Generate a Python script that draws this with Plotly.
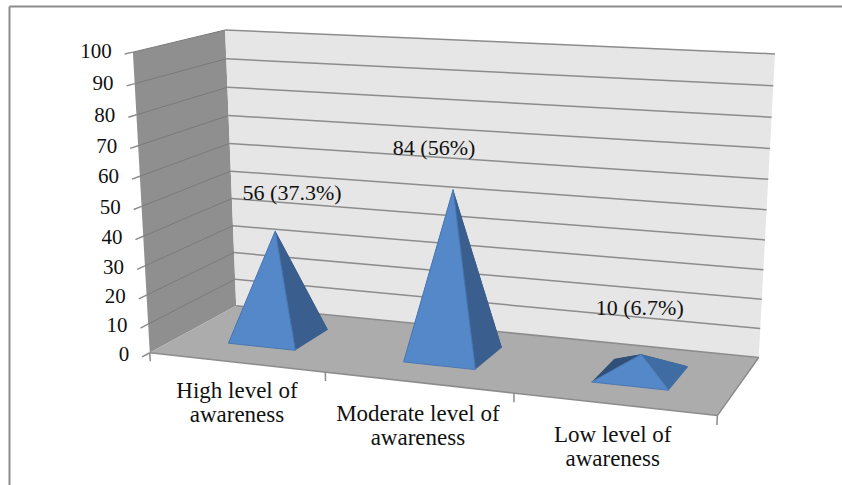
import numpy as np
import plotly.graph_objects as go

W, H = 842, 485
categories = ["High level of<br>awareness", "Moderate level of<br>awareness", "Low level of<br>awareness"]
percent = [37.3, 56.0, 6.7]
labels = ["56 (37.3%)", "84 (56%)", "10 (6.7%)"]
ticks = [0, 10, 20, 30, 40, 50, 60, 70, 80, 90, 100]

# Box corners (category, depth, value) and where they sit on the page: fixes the 3D view.
box = np.array([[0,0,0],[0,0,100],[0,1,0],[0,1,100],[3,1,100],[3,1,0],[3,0,0]], float)
page = np.array([[150,352.5],[133,52],[236,306],[225,30],[775,54],[759,357],[717,416]], float)
A = []
for (x,y,z),(u,v) in zip(box/[3,1,100], page/[W,H]):
    A.append([x,y,z,1,0,0,0,0,-u*x,-u*y,-u*z,-u])
    A.append([0,0,0,0,x,y,z,1,-v*x,-v*y,-v*z,-v])
M = np.linalg.svd(np.array(A))[2][-1].reshape(3,4)
def proj(c, d, v):
    q = M @ np.array([c/3, d, v/100, 1.0])
    return float(q[0]/q[2]*W), float(q[1]/q[2]*H)

fig = go.Figure()
def poly(points, color, edge=None):
    xy = [proj(*p) for p in points]; xy.append(xy[0])
    fig.add_trace(go.Scatter(x=[a for a,_ in xy], y=[b for _,b in xy], mode="lines", fill="toself", fillcolor=color,
                             line=dict(color=edge or color, width=1 if edge else 0), hoverinfo="skip"))
def line(points, color="#8c8c8c", width=1.5):
    xy = [proj(*p) for p in points]
    fig.add_trace(go.Scatter(x=[a for a,_ in xy], y=[b for _,b in xy], mode="lines", line=dict(color=color, width=width), hoverinfo="skip"))
def text(c, d, v, s, pos, dx=0, dy=0, size=22):
    a, b = proj(c, d, v)
    fig.add_trace(go.Scatter(x=[a+dx], y=[b+dy], mode="text", text=[s], textposition=pos, hoverinfo="skip",
                             textfont=dict(family="Liberation Serif", size=size, color="#111111")))

poly([(0,0,0),(0,1,0),(0,1,100),(0,0,100)], "#8f8f8f")
poly([(0,1,0),(3,1,0),(3,1,100),(0,1,100)], "#e6e6e6")
poly([(0,0,0),(3,0,0),(3,1,0),(0,1,0)], "#acacac")
for t in ticks:
    line([(0,1,t),(3,1,t)], "#8c8c8c")
    line([(0,-0.08,t),(0,0,t)], "#8c8c8c")
    if t: line([(0,0,t),(0,1,t)], "#7a7a7a", 1)
line([(0,0,0),(3,0,0)]); line([(3,0,0),(3,1,0)])
for c in range(4):
    line([(c,0,0),(c,0,-3)])

hw, y0, y1 = 0.195, 0.30, 0.72
front, right, left = ["#5588c8"]*3, ["#3a5f8f","#3a5f8f","#3f6ca3"], ["#2f5078"]*3
for n, v in enumerate(percent):
    cx, cy = n+0.5, (y0+y1)/2
    FL,FR,BR,BL = (cx-hw,y0,0),(cx+hw,y0,0),(cx+hw,y1,0),(cx-hw,y1,0)
    top = (cx,cy,v)
    poly([BL,BR,top], left[n])
    poly([FL,BL,top], left[n])
    poly([FR,BR,top], right[n])
    poly([FL,FR,top], front[n], "#4a78b4")

for t in ticks:
    text(0,-0.08,t,str(t),"middle left",dx=-13,dy=-1,size=21)
cat_dx, cat_dy = [1,0,-1], [30,33,32]
for n, c in enumerate(categories):
    for k, part in enumerate(c.split("<br>")):
        text(n+0.5,0,0,part,"middle center",dx=cat_dx[n],dy=cat_dy[n]+24*k,size=23)
offset = [(18,12.5),(-19,13),(-3,15)]
for n, l in enumerate(labels):
    text(n+0.5,(y0+y1)/2,percent[n]+offset[n][1],l,"middle center",dx=offset[n][0])

fig.update_layout(
    width=W, height=H, margin=dict(l=0,r=0,t=0,b=0), paper_bgcolor="white", plot_bgcolor="white", showlegend=False,
    xaxis=dict(range=[0,W], visible=False, fixedrange=True), yaxis=dict(range=[H,0], visible=False, fixedrange=True),
    shapes=[dict(type="line", xref="paper", yref="paper", x0=9.5/W, x1=9.5/W, y0=0, y1=1-6.5/H, line=dict(color="#8c8c8c", width=2)),
            dict(type="line", xref="paper", yref="paper", x0=9.5/W, x1=1, y0=1-6.5/H, y1=1-6.5/H, line=dict(color="#8c8c8c", width=2))],
)
fig.write_html("out.html", config={"displayModeBar": False}, post_script="document.body.style.margin='0';")
